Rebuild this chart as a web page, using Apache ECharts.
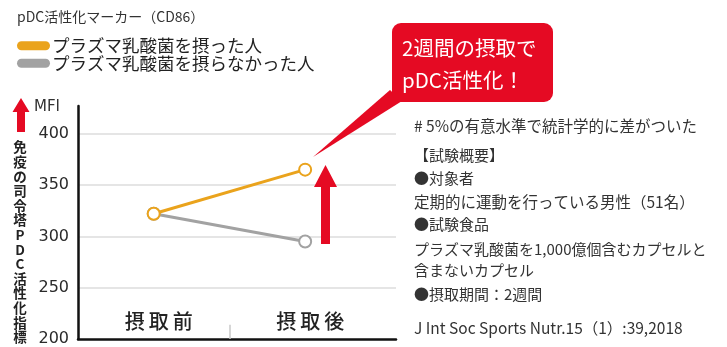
<!DOCTYPE html>
<html>
<head>
<meta charset="utf-8">
<script src="https://cdn.jsdelivr.net/npm/echarts@6/dist/echarts.min.js"></script>
<style>
html,body{margin:0;padding:0;background:#fff;}
#c{width:727px;height:347px;}
</style>
</head>
<body>
<div id="c"></div>
<script>
var categories = ['摂取前', '摂取後'];
var categoryPos = [0, 1];
var takenValues = [322, 365];
var notTakenValues = [322, 295];
var seriesNames = ['プラズマ乳酸菌を摂った人', 'プラズマ乳酸菌を摂らなかった人'];
var yTicks = [200, 250, 300, 350, 400];
var chartTitle = 'pDC活性化マーカー（CD86）';
var yAxisTitle = '免疫の司令塔PDC活性化指標';
var yAxisUnit = 'MFI';
var calloutText = '2週間の摂取で\npDC活性化！';
var noteLines = [
  '# 5%の有意水準で統計学的に差がついた',
  '【試験概要】',
  '●対象者',
  '定期的に運動を行っている男性（51名）',
  '●試験食品',
  'プラズマ乳酸菌を1,000億個含むカプセルと',
  '含まないカプセル',
  '●摂取期間：2週間',
  'J Int Soc Sports Nutr.15（1）:39,2018'
];

var ORANGE = '#EAA31C';
var GRAY = '#A2A2A2';
var RED = '#E50A23';
var JP = '"Noto Sans CJK JP", sans-serif';

var chart = echarts.init(document.getElementById('c'), null, {renderer: 'canvas'});

var noteY = [118, 148, 171, 194, 217, 242, 263, 287, 320];
var noteSize = [15.5, 15, 15, 15.5, 15, 15, 15, 15, 15.5];
var noteGraphics = noteLines.map(function (t, i) {
  return {type: 'text', x: 414, y: noteY[i], z: 10,
    style: {text: t, font: noteSize[i] + 'px ' + JP, fill: '#333'}};
});

var spaced = function (s) { return s.split('').join('\u2009'); };

var option = {
  animation: false,
  backgroundColor: '#fff',
  grid: {left: 78, right: 331, top: 106, bottom: 3},
  legend: {
    orient: 'vertical', left: 17, top: 37, padding: 0, itemWidth: 33, itemHeight: 9, itemGap: 0,
    icon: 'path://M4.5,0H28.5A4.5,4.5,0,0,1,28.5,9H4.5A4.5,4.5,0,0,1,4.5,0Z',
    textStyle: {fontFamily: JP, fontSize: 17.5, color: '#222', lineHeight: 16, padding: [0, 0, 0, -3]},
    data: [
      {name: seriesNames[0], itemStyle: {color: ORANGE, borderWidth: 0}},
      {name: seriesNames[1], itemStyle: {color: GRAY, borderWidth: 0}}
    ]
  },
  xAxis: {
    type: 'value', min: -0.5, max: 1.6, interval: 0.5,
    axisLine: {show: true, onZero: false, lineStyle: {color: '#111', width: 2.5}},
    axisTick: {show: false},
    splitLine: {show: false},
    axisLabel: {
      inside: true, margin: 8, showMinLabel: true, showMaxLabel: false,
      fontFamily: JP, fontSize: 20, fontWeight: 500, color: '#222', padding: [0, 0, 0, 10],
      formatter: function (v) {
        var i = categoryPos.indexOf(Math.round(v * 100) / 100);
        return i >= 0 ? spaced(categories[i]) : '';
      }
    }
  },
  yAxis: {
    type: 'value', min: yTicks[0], max: 427, interval: 50,
    axisLine: {show: true, onZero: false, lineStyle: {color: '#111', width: 2.5}},
    axisTick: {show: false},
    splitLine: {show: true, showMinLine: false, showMaxLine: false, lineStyle: {color: '#dcdcdc', width: 1.5}},
    axisLabel: {
      showMaxLabel: false, margin: 9, fontFamily: 'DejaVu Sans', fontSize: 16, color: '#2a2a2a',
      formatter: function (v) { return yTicks.indexOf(v) >= 0 ? String(v) : ''; }
    }
  },
  series: [
    {
      name: seriesNames[1], type: 'line', z: 3,
      data: categoryPos.map(function (x, i) { return [x, notTakenValues[i]]; }),
      symbol: 'emptyCircle', symbolSize: 12,
      lineStyle: {color: GRAY, width: 3},
      itemStyle: {color: GRAY, borderColor: GRAY, borderWidth: 3},
      markLine: {
        silent: true, symbol: 'none', label: {show: false},
        lineStyle: {color: '#c8c8c8', width: 1.5, type: 'solid'},
        data: [[{coord: [0.5, 200]}, {coord: [0.5, 214]}]]
      }
    },
    {
      name: seriesNames[0], type: 'line', z: 4,
      data: categoryPos.map(function (x, i) { return [x, takenValues[i]]; }),
      symbol: 'emptyCircle', symbolSize: 12,
      lineStyle: {color: ORANGE, width: 3},
      itemStyle: {color: ORANGE, borderColor: ORANGE, borderWidth: 3}
    }
  ],
  graphic: [
    {type: 'text', x: 17, y: 10, style: {text: chartTitle, font: '14px ' + JP, fill: '#333'}},
    {type: 'text', x: 34, y: 100, style: {text: yAxisUnit, font: '15px "DejaVu Sans"', fill: '#333'}},
    {type: 'polygon', shape: {points: [[21, 98], [29.5, 112], [25, 112], [25, 132], [17, 132], [17, 112], [12.5, 112]]}, style: {fill: RED}},
    {type: 'text', x: 20, y: 140, style: {text: yAxisTitle.split('').join('\n'), font: 'bold 13.5px ' + JP, lineHeight: 14.6, align: 'center', fill: '#222'}},
    {type: 'polygon', z: 10, shape: {points: [[325.5, 165], [337, 187], [330, 187], [330, 244], [321, 244], [321, 187], [314, 187]]}, style: {fill: RED}},
    {type: 'polygon', z: 10, shape: {points: [[313, 157], [390, 90], [402, 101]]}, style: {fill: RED}},
    {type: 'rect', z: 10, shape: {x: 392, y: 23, width: 161, height: 79, r: 9}, style: {fill: RED}},
    {type: 'text', z: 11, x: 402, y: 32, style: {text: calloutText, font: '20.5px ' + JP, lineHeight: 32, fill: '#fff'}}
  ].concat(noteGraphics)
};
chart.setOption(option);
</script>
</body>
</html>
